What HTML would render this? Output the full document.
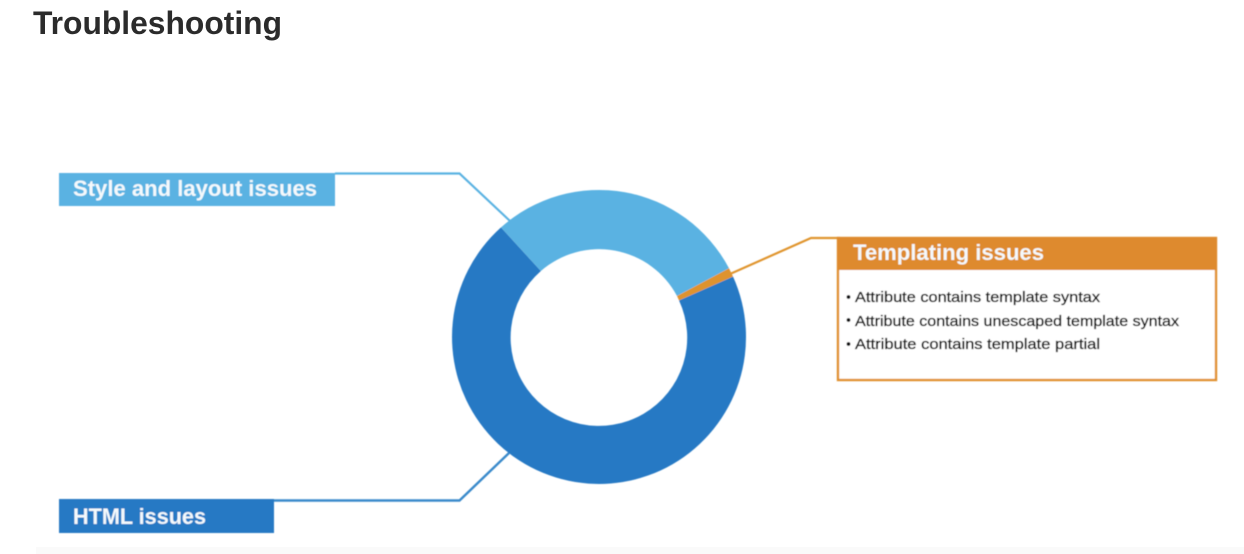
<!DOCTYPE html>
<html>
<head>
<meta charset="utf-8">
<style>
html,body{margin:0;padding:0;background:#fff;width:1244px;height:554px;overflow:hidden}
svg{display:block}
</style>
</head>
<body>
<svg width="1244" height="554" viewBox="0 0 1244 554" xmlns="http://www.w3.org/2000/svg">
<defs><filter id="b" x="-2%" y="-2%" width="104%" height="104%"><feGaussianBlur stdDeviation="0.45"/></filter></defs>
<rect x="36" y="547" width="1208" height="7" fill="#fafafa"/>
<text x="33" y="34" font-family="'Liberation Sans',sans-serif" font-weight="700" font-size="32" fill="#2b2b2b" textLength="249" lengthAdjust="spacingAndGlyphs">Troubleshooting</text>
<g filter="url(#b)">
<path d="M335 173.5H459.5L510 221" fill="none" stroke="#5ab2e2" stroke-width="2.2"/>
<path d="M274 500.5H459.5L509 453" fill="none" stroke="#3a8acb" stroke-width="2.4"/>
<path d="M730 274L811 238H840" fill="none" stroke="#e0952f" stroke-width="2.2"/>
<path d="M733 276.5A147 147 0 1 1 501 227.4L540.9 271A88.3 88.3 0 1 0 679 300.4Z" fill="#2779c4"/>
<path d="M501 227.4A147 147 0 0 1 729 268.3L677 296A88.3 88.3 0 0 0 540.9 271Z" fill="#5ab2e2"/>
<path d="M729 268.3L733 276.5L679 300.4L677 296Z" fill="#de932e"/>
<rect x="59" y="173" width="276" height="33" fill="#5ab2e2"/>
<rect x="59" y="499" width="215" height="34" fill="#2779c4"/>
<rect x="838" y="238" width="378" height="142" fill="#fff" stroke="#e0902f" stroke-width="2.4"/>
<rect x="837" y="237" width="380" height="33" fill="#de8a2e"/>
<g font-family="'Liberation Sans',sans-serif" font-weight="700" font-size="22" fill="#f4f9fc">
<text x="73" y="196" textLength="244" lengthAdjust="spacingAndGlyphs">Style and layout issues</text>
<text x="73" y="524" textLength="133" lengthAdjust="spacingAndGlyphs">HTML issues</text>
<text x="853" y="260" textLength="191" lengthAdjust="spacingAndGlyphs">Templating issues</text>
</g>
<g font-family="'Liberation Sans',sans-serif" font-size="14.5" fill="#111" stroke="#111" stroke-width="0.35">
<circle cx="848.5" cy="297" r="1.8"/>
<circle cx="848.5" cy="320" r="1.8"/>
<circle cx="848.5" cy="344" r="1.8"/>
<text x="855" y="302" textLength="245" lengthAdjust="spacingAndGlyphs">Attribute contains template syntax</text>
<text x="855" y="326" textLength="324" lengthAdjust="spacingAndGlyphs">Attribute contains unescaped template syntax</text>
<text x="855" y="349" textLength="245" lengthAdjust="spacingAndGlyphs">Attribute contains template partial</text>
</g>
</g>
</svg>
</body>
</html>
